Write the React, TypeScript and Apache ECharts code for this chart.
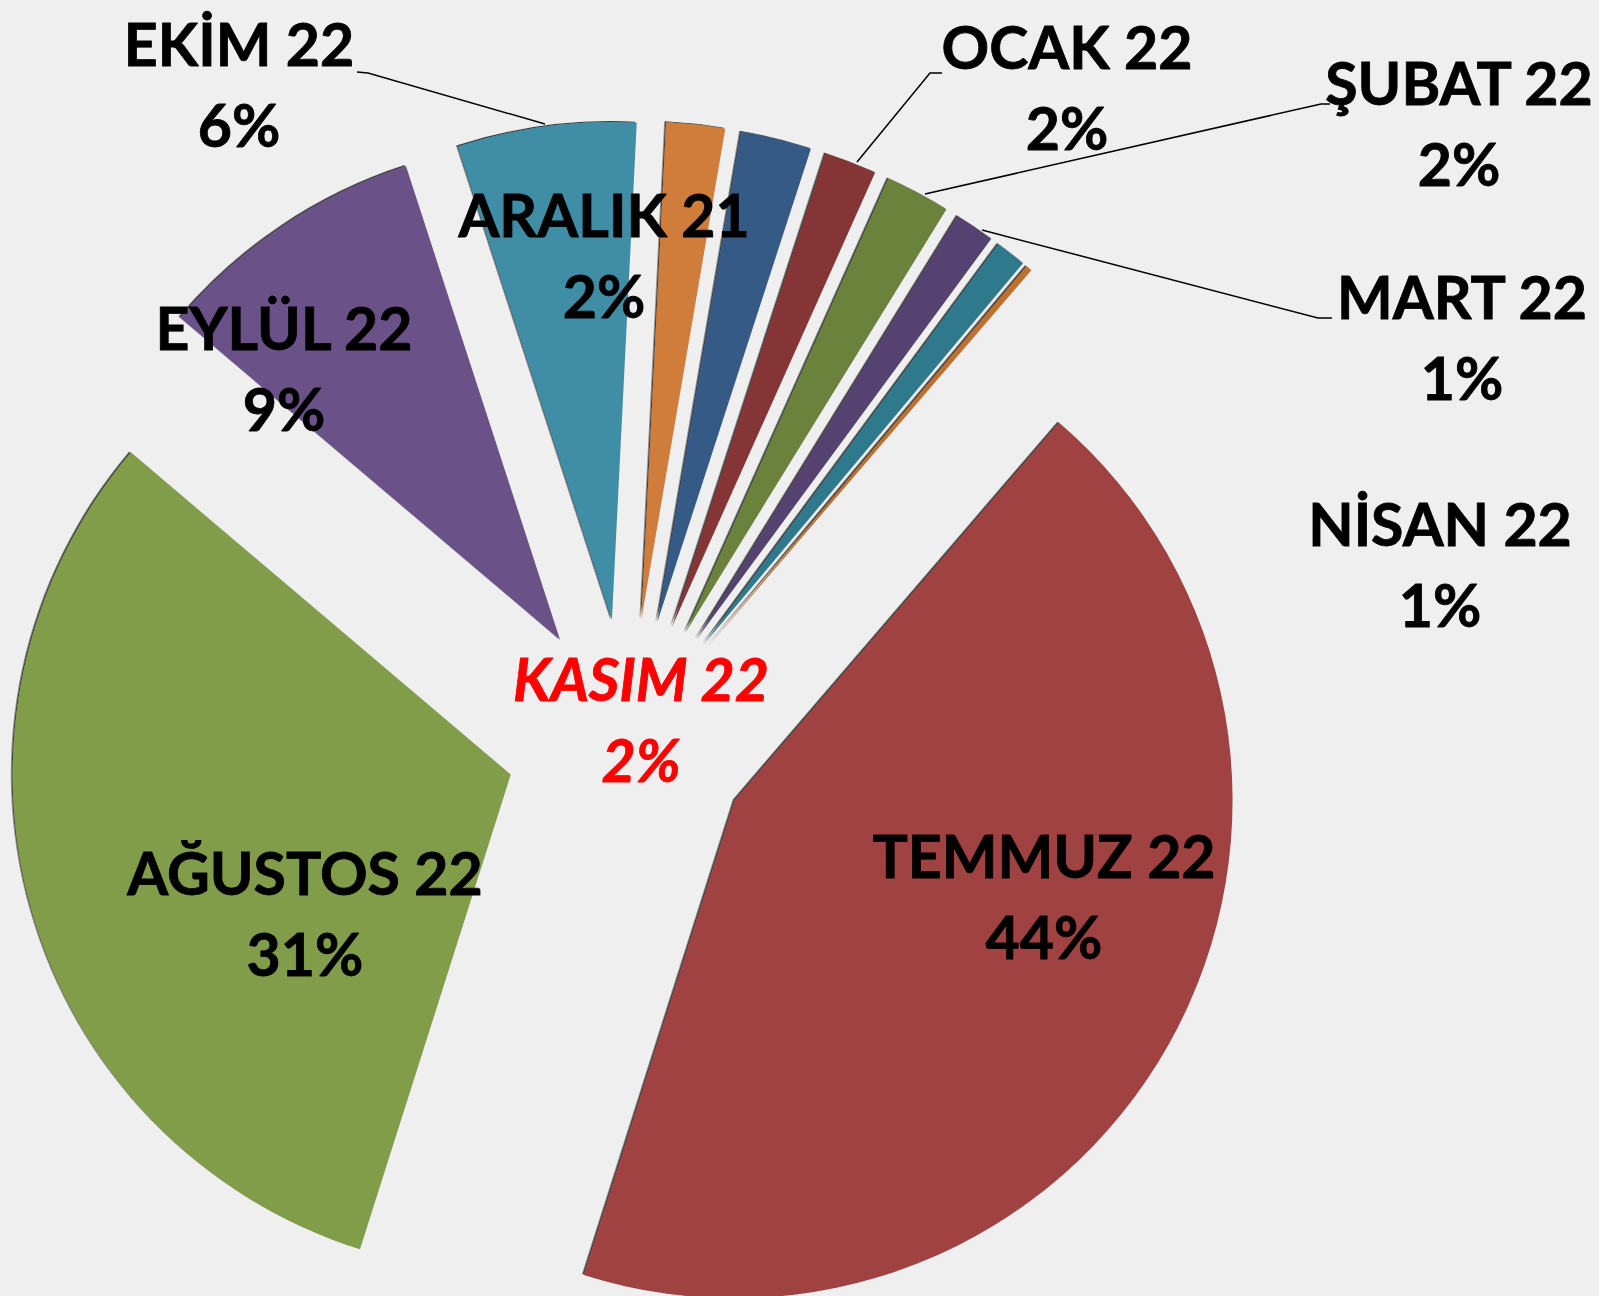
import React, { useEffect, useRef } from "react";
import * as echarts from "echarts";

// ---- data (clockwise order, chronological) ----
const categories = [
  "ARALIK 21",
  "OCAK 22",
  "ŞUBAT 22",
  "MART 22",
  "NİSAN 22",
  "HAZİRAN 22",
  "TEMMUZ 22",
  "AĞUSTOS 22",
  "EYLÜL 22",
  "EKİM 22",
  "KASIM 22",
];
const values = [2.3, 1.7, 2.1, 1.3, 1.0, 0.2, 43.6, 31.3, 8.8, 5.8, 1.9];

// ---- styles ----
const colors = [
  "#365A86",
  "#853535",
  "#6B823B",
  "#57426F",
  "#2E7A8C",
  "#C0702E",
  "#A14343",
  "#829D4A",
  "#6A5188",
  "#418EA6",
  "#D07C3A",
];
const hiddenLabel = [false, false, false, false, false, true, false, false, false, false, false];
const labelPos: ([number, number] | null)[] = [
  [604, 255],
  [1067, 87],
  [1459, 123],
  [1462, 337],
  [1440, 564],
  null,
  [1044, 896],
  [305, 913],
  [284, 368],
  [239, 84],
  [641, 719],
];
const leaderLines: (number[][] | null)[] = [
  null,
  [[857, 162], [930, 73], [942, 73]],
  [[925, 194], [1321, 104], [1330, 104]],
  [[982, 230], [1318, 318], [1332, 318]],
  null,
  null,
  null,
  null,
  null,
  [[545, 124], [368, 73], [357, 72]],
  null,
];

const CENTER = [628, 741];
const RADIUS = 498;
const EXPLODE = 122;
const START = 80.3;

export default function App() {
  const ref = useRef<HTMLDivElement>(null);
  useEffect(() => {
    if (!ref.current) return;
    const chart = echarts.init(ref.current, undefined, { renderer: "svg" });

    const sliceData = categories.map((name, i) => {
      const st = {
        color: colors[i],
        borderWidth: 0,
        shadowBlur: 1,
        shadowOffsetX: -1.5,
        shadowOffsetY: -1,
        shadowColor: "rgba(0,0,0,0.75)",
      };
      return {
        name,
        value: values[i],
        selected: true,
        itemStyle: st,
        select: { itemStyle: st },
      };
    });

    const labelData = categories.map((name, i) => {
      const isKasim = name === "KASIM 22";
      const c = isKasim ? "#FF0000" : "#000000";
      return {
        name,
        value: values[i],
        label: hiddenLabel[i]
          ? { show: false }
          : {
              show: true,
              color: c,
              textBorderColor: c,
              textBorderWidth: 0.8,
              fontStyle: isKasim ? "italic" : "normal",
            },
        labelLine: { show: !!leaderLines[i] },
      };
    });

    chart.setOption({
      animation: false,
      backgroundColor: "#efefef",
      series: [
        {
          type: "pie",
          z: 2,
          center: CENTER,
          radius: [0, RADIUS],
          startAngle: START,
          clockwise: true,
          selectedMode: "multiple",
          selectedOffset: EXPLODE,
          avoidLabelOverlap: false,
          label: { show: false },
          labelLine: { show: false },
          emphasis: { disabled: true },
          silent: true,
          data: sliceData,
        },
        {
          type: "pie",
          z: 5,
          center: CENTER,
          radius: [0, RADIUS],
          startAngle: START,
          clockwise: true,
          percentPrecision: 0,
          silent: true,
          avoidLabelOverlap: false,
          itemStyle: { color: "rgba(0,0,0,0)", borderWidth: 0 },
          emphasis: { disabled: true },
          label: {
            show: true,
            position: "outside",
            formatter: "{b}\n{d}%",
            fontFamily: "Lato",
            fontWeight: "bold",
            fontSize: 59,
            lineHeight: 81,
            align: "center",
            color: "#000",
          },
          labelLine: {
            show: false,
            lineStyle: { color: "#000", width: 1.5 },
          },
          labelLayout: (p: any) => {
            const i = p.dataIndex;
            const pos = labelPos[i];
            if (!pos) return {};
            const out: any = {
              x: pos[0],
              y: pos[1],
              align: "center",
              verticalAlign: "middle",
            };
            if (leaderLines[i]) out.labelLinePoints = leaderLines[i];
            return out;
          },
          data: labelData,
        },
      ],
    });
    return () => chart.dispose();
  }, []);
  return (
    <div
      ref={ref}
      style={{ position: "absolute", left: 0, top: 0, width: 1599, height: 1296 }}
    />
  );
}
